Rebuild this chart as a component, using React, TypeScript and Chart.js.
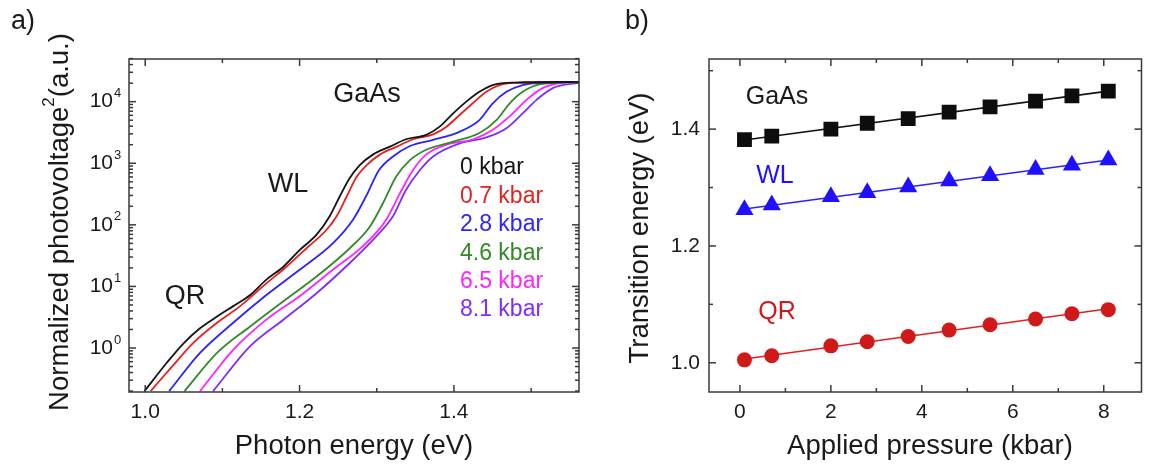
import React, { useEffect, useRef } from 'react';
import { Chart, registerables } from 'chart.js';

Chart.register(...registerables);

const FONT = "'Liberation Sans', Arial, Helvetica, sans-serif";
const TEXT = '#1a1a1a';
const AXIS = '#3a3a3a';

// ---------- Panel a: photovoltage spectra (log10 of normalized PV^2) ----------
const energy0 = [0.999, 1.028, 1.050, 1.071, 1.093, 1.114, 1.136, 1.157, 1.179, 1.200, 1.222, 1.239, 1.252, 1.265, 1.278, 1.295, 1.317, 1.338, 1.364, 1.381, 1.399, 1.416, 1.433, 1.450, 1.480, 1.562];
const logPV0 = [-0.70, -0.24, 0.08, 0.32, 0.51, 0.68, 0.86, 1.11, 1.32, 1.59, 1.84, 2.14, 2.46, 2.76, 2.97, 3.14, 3.27, 3.39, 3.46, 3.59, 3.81, 4.00, 4.16, 4.27, 4.31, 4.32];

const energy07 = [1.007, 1.037, 1.062, 1.093, 1.123, 1.157, 1.183, 1.209, 1.235, 1.248, 1.261, 1.274, 1.287, 1.304, 1.326, 1.347, 1.373, 1.390, 1.407, 1.424, 1.442, 1.459, 1.485, 1.562];
const logPV07 = [-0.70, -0.27, 0.08, 0.41, 0.68, 1.05, 1.32, 1.62, 1.92, 2.14, 2.46, 2.78, 2.97, 3.14, 3.27, 3.39, 3.47, 3.59, 3.78, 3.97, 4.16, 4.27, 4.31, 4.32];

const energy28 = [1.031, 1.071, 1.114, 1.157, 1.200, 1.243, 1.269, 1.286, 1.303, 1.321, 1.343, 1.373, 1.407, 1.433, 1.450, 1.468, 1.489, 1.520, 1.562];
const logPV28 = [-0.70, -0.08, 0.41, 0.86, 1.27, 1.70, 2.08, 2.46, 2.89, 3.11, 3.28, 3.38, 3.51, 3.70, 3.97, 4.16, 4.27, 4.31, 4.32];

const energy46 = [1.051, 1.093, 1.136, 1.179, 1.222, 1.265, 1.291, 1.308, 1.325, 1.343, 1.364, 1.399, 1.433, 1.455, 1.472, 1.489, 1.511, 1.562];
const logPV46 = [-0.70, -0.08, 0.35, 0.76, 1.16, 1.62, 1.97, 2.35, 2.78, 3.05, 3.22, 3.35, 3.49, 3.70, 3.97, 4.16, 4.28, 4.32];

const energy65 = [1.071, 1.114, 1.157, 1.200, 1.243, 1.286, 1.312, 1.330, 1.347, 1.364, 1.390, 1.425, 1.450, 1.472, 1.494, 1.515, 1.537, 1.562];
const logPV65 = [-0.70, -0.03, 0.46, 0.84, 1.27, 1.70, 2.08, 2.51, 2.89, 3.14, 3.30, 3.39, 3.54, 3.76, 4.03, 4.22, 4.30, 4.32];

const energy81 = [1.088, 1.136, 1.179, 1.222, 1.265, 1.299, 1.321, 1.338, 1.356, 1.373, 1.407, 1.442, 1.468, 1.489, 1.507, 1.528, 1.562];
const logPV81 = [-0.70, 0.03, 0.46, 0.89, 1.38, 1.81, 2.14, 2.57, 2.89, 3.11, 3.32, 3.42, 3.57, 3.81, 4.03, 4.22, 4.31];

const curveEnergies = [energy0, energy07, energy28, energy46, energy65, energy81];
const curveLogPV = [logPV0, logPV07, logPV28, logPV46, logPV65, logPV81];
const curveLabels = ['0 kbar', '0.7 kbar', '2.8 kbar', '4.6 kbar', '6.5 kbar', '8.1 kbar'];
const curveColors = ['#141414', '#e3231f', '#2b24ff', '#34892a', '#ff24ff', '#7d2dff'];

const xMajorA = [1.0, 1.2, 1.4];
const xMinorA = [1.1, 1.3, 1.5];
const yDecadesA = [1, 10, 100, 1000, 10000];
const yExponentsA = ['0', '1', '2', '3', '4'];
const yMinorMultipliers = [2, 3, 4, 5, 6, 7, 8, 9];
const yMinorDecades = [0.1, 1, 10, 100, 1000, 10000];

// ---------- Panel b: transition energies vs pressure ----------
const pressure = [0.1, 0.7, 2.0, 2.8, 3.7, 4.6, 5.5, 6.5, 7.3, 8.1];
const gaasEnergy = [1.382, 1.388, 1.400, 1.410, 1.418, 1.429, 1.438, 1.448, 1.457, 1.465];
const wlEnergy = [1.262, 1.270, 1.284, 1.291, 1.301, 1.311, 1.320, 1.331, 1.338, 1.347];
const qrEnergy = [1.005, 1.012, 1.029, 1.036, 1.045, 1.056, 1.065, 1.075, 1.084, 1.091];

const xMajorB = [0, 2, 4, 6, 8];
const xMinorB = [1, 3, 5, 7];
const yMajorB = [1.0, 1.2, 1.4];
const yMinorB = [1.1, 1.3, 1.5];

type TextItem = {
  text: string;
  x: number;
  y: number;
  size: number;
  color?: string;
  align?: CanvasTextAlign;
  rotate?: boolean;
  sup?: { before: string; sup: string; after: string };
};

function linFit(xs: number[], ys: number[]) {
  const n = xs.length;
  const mx = xs.reduce((a, b) => a + b, 0) / n;
  const my = ys.reduce((a, b) => a + b, 0) / n;
  let sxy = 0, sxx = 0;
  for (let i = 0; i < n; i++) {
    sxy += (xs[i] - mx) * (ys[i] - my);
    sxx += (xs[i] - mx) * (xs[i] - mx);
  }
  const k = sxy / sxx;
  return (x: number) => my + k * (x - mx);
}

function framePlugin(cfg: {
  xMajor: number[]; xMinor: number[]; yMajor: number[]; yMinor: number[];
}) {
  return {
    id: 'frameTicks',
    afterDatasetsDraw(chart: any) {
      const { ctx, chartArea: a, scales } = chart;
      const xs = scales.x, ys = scales.y;
      ctx.save();
      ctx.strokeStyle = AXIS;
      ctx.lineWidth = 1.5;
      const line = (x1: number, y1: number, x2: number, y2: number) => {
        ctx.beginPath(); ctx.moveTo(x1, y1); ctx.lineTo(x2, y2); ctx.stroke();
      };
      const doX = (vals: number[], len: number) => vals.forEach((v) => {
        const p = xs.getPixelForValue(v);
        if (p < a.left - 0.5 || p > a.right + 0.5) return;
        line(p, a.bottom, p, a.bottom - len);
        line(p, a.top, p, a.top + len);
      });
      const doY = (vals: number[], len: number) => vals.forEach((v) => {
        const p = ys.getPixelForValue(v);
        if (p < a.top - 0.5 || p > a.bottom + 0.5) return;
        line(a.left, p, a.left + len, p);
        line(a.right, p, a.right - len, p);
      });
      doX(cfg.xMajor, 7); doX(cfg.xMinor, 4);
      doY(cfg.yMajor, 7); doY(cfg.yMinor, 4);
      ctx.strokeRect(a.left, a.top, a.right - a.left, a.bottom - a.top);
      ctx.restore();
    },
  };
}

function textPlugin(items: TextItem[], logLabels?: { values: number[]; exps: string[] }) {
  return {
    id: 'texts',
    afterDraw(chart: any) {
      const ctx: CanvasRenderingContext2D = chart.ctx;
      ctx.save();
      ctx.textBaseline = 'middle';
      for (const it of items) {
        ctx.save();
        ctx.fillStyle = it.color || TEXT;
        ctx.font = `${it.size}px ${FONT}`;
        ctx.translate(it.x, it.y);
        if (it.rotate) ctx.rotate(-Math.PI / 2);
        if (it.sup) {
          const f1 = `${it.size}px ${FONT}`;
          const f2 = `${Math.round(it.size * 0.6)}px ${FONT}`;
          ctx.font = f1;
          const w1 = ctx.measureText(it.sup.before).width;
          const w3 = ctx.measureText(it.sup.after).width;
          ctx.font = f2;
          const w2 = ctx.measureText(it.sup.sup).width;
          let sx = -(w1 + w2 + w3) / 2;
          ctx.textAlign = 'left';
          ctx.font = f1;
          ctx.fillText(it.sup.before, sx, 0);
          sx += w1;
          ctx.font = f2;
          ctx.fillText(it.sup.sup, sx, -it.size * 0.38);
          sx += w2;
          ctx.font = f1;
          ctx.fillText(it.sup.after, sx, 0);
        } else {
          ctx.textAlign = it.align || 'center';
          ctx.fillText(it.text, 0, 0);
        }
        ctx.restore();
      }
      if (logLabels) {
        const ys = chart.scales.y;
        ctx.fillStyle = TEXT;
        logLabels.values.forEach((v, i) => {
          const p = ys.getPixelForValue(v);
          ctx.font = `21px ${FONT}`;
          ctx.textAlign = 'right';
          ctx.fillText('10', 113, p);
          ctx.font = `13px ${FONT}`;
          ctx.textAlign = 'left';
          ctx.fillText(logLabels.exps[i], 114, p - 8);
        });
      }
      ctx.restore();
    },
  };
}

const tickFont = { family: FONT, size: 21 };

function PanelA() {
  const ref = useRef<HTMLCanvasElement>(null);
  useEffect(() => {
    const yMinorA: number[] = [];
    yMinorDecades.forEach((d) => yMinorMultipliers.forEach((m) => yMinorA.push(d * m)));
    const datasets = curveEnergies.map((en, i) => ({
      label: curveLabels[i],
      data: en.map((x, j) => ({ x, y: Math.pow(10, curveLogPV[i][j]) })),
      showLine: true,
      borderColor: curveColors[i],
      backgroundColor: curveColors[i],
      borderWidth: 1.8,
      pointRadius: 0,
      cubicInterpolationMode: 'monotone' as const,
    }));
    const texts: TextItem[] = [
      { text: 'a)', x: 11, y: 22, size: 27, align: 'left' },
      { text: 'GaAs', x: 367, y: 95, size: 27 },
      { text: 'WL', x: 288, y: 185, size: 27 },
      { text: 'QR', x: 185, y: 297, size: 27 },
      { text: 'Photon energy (eV)', x: 354, y: 446, size: 27.5 },
      { text: '', x: 60, y: 222, size: 27.5, rotate: true, sup: { before: 'Normalized photovoltage', sup: '2', after: '(a.u.)' } },
      ...curveLabels.map((l, i) => ({ text: l, x: 460, y: 168 + i * 28.4, size: 23, color: curveColors[i], align: 'left' as CanvasTextAlign })),
    ];
    const chart = new Chart(ref.current!, {
      type: 'scatter',
      data: { datasets },
      options: {
        animation: false,
        responsive: false,
        events: [],
        layout: { padding: { top: 59, right: 1, left: 0, bottom: 0 } },
        plugins: { legend: { display: false }, tooltip: { enabled: false } },
        scales: {
          x: {
            type: 'linear', min: 0.979, max: 1.562,
            grid: { display: false, drawTicks: false }, border: { display: false },
            ticks: { font: tickFont, color: TEXT, padding: 8, autoSkip: false, maxRotation: 0, callback: (v: any) => Number(v).toFixed(1) },
            afterBuildTicks: (s: any) => { s.ticks = xMajorA.map((v) => ({ value: v })); },
            afterFit: (s: any) => { s.height = 73; },
          },
          y: {
            type: 'logarithmic', min: 0.193, max: 49300,
            grid: { display: false, drawTicks: false }, border: { display: false },
            ticks: { display: false },
            afterFit: (s: any) => { s.width = 129; },
          },
        },
      } as any,
      plugins: [
        framePlugin({ xMajor: xMajorA, xMinor: xMinorA, yMajor: yDecadesA, yMinor: yMinorA }),
        textPlugin(texts, { values: yDecadesA, exps: yExponentsA }),
      ],
    });
    return () => chart.destroy();
  }, []);
  return <canvas ref={ref} width={580} height={465} style={{ position: 'absolute', left: 0, top: 0 }} />;
}

function PanelB() {
  const ref = useRef<HTMLCanvasElement>(null);
  useEffect(() => {
    const series = [
      { name: 'GaAs', vals: gaasEnergy, marker: 'rect', radius: 10.5, color: '#0d0d0d', line: '#111111' },
      { name: 'WL', vals: wlEnergy, marker: 'triangle', radius: 10.5, color: '#1f10ff', line: '#2a22ff' },
      { name: 'QR', vals: qrEnergy, marker: 'circle', radius: 7.5, color: '#d01a1a', line: '#e02222' },
    ];
    const points = series.map((s) => ({
      label: s.name,
      data: pressure.map((x, i) => ({ x, y: s.vals[i] })),
      pointStyle: s.marker,
      pointRadius: s.radius,
      pointBackgroundColor: s.color,
      pointBorderColor: s.color,
      pointBorderWidth: 0,
      showLine: false,
    }));
    const fits = series.map((s) => {
      const f = linFit(pressure, s.vals);
      const x0 = pressure[0], x1 = pressure[pressure.length - 1];
      return {
        label: s.name + ' fit',
        data: [{ x: x0, y: f(x0) }, { x: x1, y: f(x1) }],
        showLine: true,
        borderColor: s.line,
        borderWidth: 1.6,
        pointRadius: 0,
      };
    });
    const texts: TextItem[] = [
      { text: 'b)', x: 45, y: 22, size: 27, align: 'left' },
      { text: 'GaAs', x: 197, y: 97, size: 25 },
      { text: 'WL', x: 195, y: 176, size: 25, color: '#1f10ff' },
      { text: 'QR', x: 197, y: 312, size: 25, color: '#d01a1a' },
      { text: 'Applied pressure (kbar)', x: 350, y: 446, size: 27.5 },
      { text: 'Transition energy (eV)', x: 60, y: 228, size: 27.5, rotate: true },
    ];
    const chart = new Chart(ref.current!, {
      type: 'scatter',
      data: { datasets: [...points, ...fits] as any },
      options: {
        animation: false,
        responsive: false,
        events: [],
        layout: { padding: { top: 59, right: 0, left: 0, bottom: 0 } },
        plugins: { legend: { display: false }, tooltip: { enabled: false } },
        scales: {
          x: {
            type: 'linear', min: -0.68, max: 8.83,
            grid: { display: false, drawTicks: false }, border: { display: false },
            ticks: { font: tickFont, color: TEXT, padding: 8, autoSkip: false, maxRotation: 0, callback: (v: any) => String(Number(v)) },
            afterBuildTicks: (s: any) => { s.ticks = xMajorB.map((v) => ({ value: v })); },
            afterFit: (s: any) => { s.height = 73; },
          },
          y: {
            type: 'linear', min: 0.95, max: 1.52,
            grid: { display: false, drawTicks: false }, border: { display: false },
            ticks: { font: tickFont, color: TEXT, padding: 9, autoSkip: false, callback: (v: any) => Number(v).toFixed(1) },
            afterBuildTicks: (s: any) => { s.ticks = yMajorB.map((v) => ({ value: v })); },
            afterFit: (s: any) => { s.width = 129; },
          },
        },
      } as any,
      plugins: [
        framePlugin({ xMajor: xMajorB, xMinor: xMinorB, yMajor: yMajorB, yMinor: yMinorB }),
        textPlugin(texts),
      ],
    });
    return () => chart.destroy();
  }, []);
  return <canvas ref={ref} width={572} height={465} style={{ position: 'absolute', left: 580, top: 0 }} />;
}

export default function App() {
  return (
    <div style={{ position: 'fixed', left: 0, top: 0, width: 1150, height: 465, overflow: 'hidden', background: '#ffffff' }}>
      <PanelA />
      <PanelB />
    </div>
  );
}
